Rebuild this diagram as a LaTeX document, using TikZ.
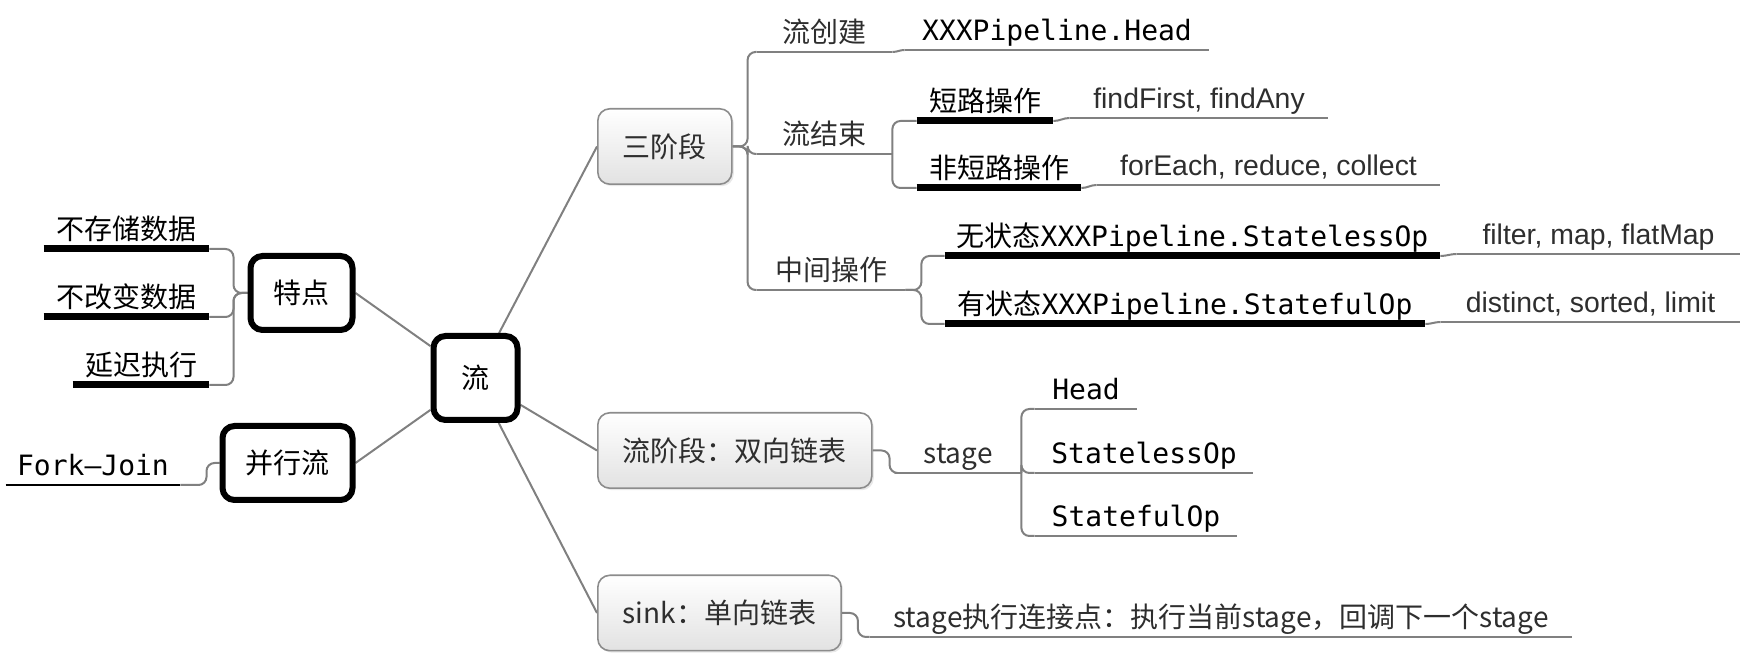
\documentclass[tikz,border=0pt]{standalone}
\usepackage{fontspec}
\setmainfont{Noto Sans CJK SC}
\setmonofont{DejaVu Sans Mono}
\newfontfamily\helv{Liberation Sans}
\usetikzlibrary{backgrounds,shadows}
\definecolor{linegray}{HTML}{808080}
\definecolor{textgray}{HTML}{2E2E2E}
\definecolor{boxline}{HTML}{8C8C8C}
\definecolor{boxfill}{HTML}{E2E2E2}
\tikzset{
  topic/.style = {anchor=south, inner xsep=0pt, inner ysep=2pt,
    text height=0.8em, text depth=0.25em, text=textgray},% texte souligne
  ul/.style = {topic, append after command={(\tikzlastnode.south west)
    edge[draw=linegray, line width=1pt] (\tikzlastnode.south east)}},% trait gris
  ulblack/.style = {topic, text=black, append after command={(\tikzlastnode.south west)
    edge[draw=black, line width=1pt] (\tikzlastnode.south east)}},% trait noir fin
  ulthick/.style = {topic, text=black, append after command={(\tikzlastnode.south west)
    edge[draw=black, line width=3.5pt] (\tikzlastnode.south east)}},% trait noir epais
  latin/.style = {font=\helv\fontsize{14.2}{16}\selectfont},
  hub/.style = {rectangle, draw=black, line width=3pt, rounded corners=6pt,
    fill=white, inner xsep=11.5pt, minimum height=37pt},% cadre noir
  phase/.style = {rectangle, anchor=west, draw=boxline, line width=0.8pt,
    rounded corners=6pt, top color=white, bottom color=boxfill,
    inner xsep=12.5pt, minimum height=37.7pt, text=textgray,
    drop shadow={opacity=0.18, shadow xshift=1pt, shadow yshift=-1pt}},% cadre gris
  conn/.style = {draw=linegray, line width=1pt, rounded corners=4pt}
}

\begin{document}
\begin{tikzpicture}[x=0.5pt, y=-0.5pt, font=\fontsize{14}{16}\selectfont]
\useasboundingbox (0,0) rectangle (1740,656);

\node[hub, minimum width=42pt, minimum height=42pt] (liu) at (475.5,378) {流};
\node[hub] (tedian) at (301.5,293) {特点};
\node[hub] (bingxing) at (287.5,463) {并行流};
\node[phase] (sanjieduan) at (597,146.5) {三阶段};
\node[phase] (liujieduan) at (597,450.5) {流阶段：双向链表};
\node[phase] (sinkbox) at (597,613) {sink：单向链表};

% gauche
\node[ulthick, minimum width=82.5pt] (nostore) at (126.5,249) {不存储数据};
\node[ulthick, minimum width=82.5pt] (nochange) at (126.5,317) {不改变数据};
\node[ulthick, minimum width=68pt] (lazy) at (141,385) {延迟执行};
\node[ulblack, minimum width=87pt] (forkjoin) at (93,485) {\texttt{Fork—Join}};

% trois phases
\node[ul, minimum width=67.5pt] (create) at (824.5,52) {流创建};
\node[ul, text=black, minimum width=152pt] (headpl) at (1057,50) {\texttt{XXXPipeline.Head}};
\node[ul, minimum width=67.5pt] (finish) at (824.5,154) {流结束};
\node[ulthick, minimum width=68pt] (short) at (985,121) {短路操作};
\node[ulthick, minimum width=82pt] (nonshort) at (999,188) {非短路操作};
\node[ul, latin, minimum width=129pt] (findop) at (1199,118) {findFirst, findAny};
\node[ul, latin, minimum width=171.5pt] (reduceop) at (1268.5,185) {forEach, reduce, collect};
\node[ul, minimum width=74pt] (middle) at (831,290) {中间操作};
\node[ulthick, minimum width=247.5pt] (stateless) at (1192.5,256) {无状态\texttt{XXXPipeline.StatelessOp}};
\node[ulthick, minimum width=240pt] (stateful) at (1185,324) {有状态\texttt{XXXPipeline.StatefulOp}};
\node[ul, latin, minimum width=141.5pt] (filterop) at (1598.5,254) {filter, map, flatMap};
\node[ul, latin, minimum width=149.5pt] (distinctop) at (1590.5,322) {distinct, sorted, limit};

% stage et sink
\node[ul, minimum width=63pt] (stage) at (958,473) {stage};
\node[ul, text=black, minimum width=51pt] (headop) at (1086,409) {\texttt{Head}};
\node[ul, text=black, minimum width=109pt] (statelessop) at (1144,473) {\texttt{StatelessOp}};
\node[ul, text=black, minimum width=101pt] (statefulop) at (1136,536) {\texttt{StatefulOp}};
\node[ul, minimum width=351pt] (callback) at (1221,637) {stage执行连接点：执行当前stage，回调下一个stage};

\begin{scope}[on background layer]
\foreach \n in {tedian, bingxing}
  \draw[conn] (\n.east) -- (liu);
\foreach \n in {sanjieduan, liujieduan, sinkbox}
  \draw[conn] (\n.west) -- (liu);
\foreach \n in {nostore, nochange, lazy}
  \draw[conn] (tedian.west) -- ++(-14,0) |- (\n.south east);
\draw[conn] (bingxing.west) -- ++(-13,0) |- (forkjoin.south east);
\foreach \n in {create, finish, middle}
  \draw[conn] (sanjieduan.east) -- ++(15,0) |- (\n.south west);
\draw[conn] (create.south east) to[out=0, in=180] (headpl.south west);
\foreach \n in {short, nonshort}
  \draw[conn] (finish.south east) |- (\n.south west);
\draw[conn] (short.south east) to[out=0, in=180] (findop.south west);
\draw[conn] (nonshort.south east) to[out=0, in=180] (reduceop.south west);
\foreach \n in {stateless, stateful}
  \draw[conn] (middle.south east) -- ++(16,0) |- (\n.south west);
\draw[conn] (stateless.south east) to[out=0, in=180] (filterop.south west);
\draw[conn] (stateful.south east) to[out=0, in=180] (distinctop.south west);
\draw[conn] (liujieduan.east) -- ++(17,0) |- (stage.south west);
\foreach \n in {headop, statelessop, statefulop}
  \draw[conn] (stage.south east) |- (\n.south west);
\draw[conn] (sinkbox.east) -- ++(16,0) |- (callback.south west);
\end{scope}
\end{tikzpicture}
\end{document}
